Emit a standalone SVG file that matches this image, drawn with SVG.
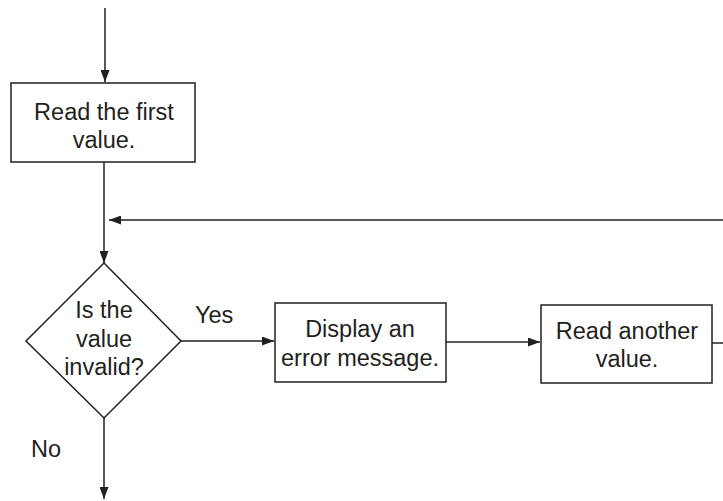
<svg xmlns="http://www.w3.org/2000/svg" width="723" height="501" viewBox="0 0 723 501">
<defs>
<marker id="arr" markerUnits="userSpaceOnUse" markerWidth="12" markerHeight="9" refX="12" refY="4.5" orient="auto">
<path d="M0,0 L12,4.5 L0,9 Z" fill="#231f20"/>
</marker>
</defs>
<style>
.n{fill:#fff;stroke:#231f20;stroke-width:1.5}
.c{fill:none;stroke:#231f20;stroke-width:1.5}
.t{font-family:"Liberation Sans",Arial,sans-serif;font-size:23.5px;fill:#231f20;text-anchor:middle}
.l{font-family:"Liberation Sans",Arial,sans-serif;font-size:23.5px;fill:#231f20}
</style>
<rect width="723" height="501" fill="#fff"/>
<g id="connectors">
<line class="c" x1="105" y1="8" x2="105" y2="82" marker-end="url(#arr)"/>
<line class="c" x1="104" y1="162" x2="104" y2="263" marker-end="url(#arr)"/>
<line class="c" x1="723" y1="220" x2="109" y2="220" marker-end="url(#arr)"/>
<line class="c" x1="181" y1="341" x2="274" y2="341" marker-end="url(#arr)"/>
<line class="c" x1="446" y1="342" x2="540" y2="342" marker-end="url(#arr)"/>
<line class="c" x1="712" y1="343" x2="723" y2="343"/>
<line class="c" x1="104" y1="418" x2="104" y2="499" marker-end="url(#arr)"/>
<text class="l" x="195" y="323">Yes</text>
<text class="l" x="31" y="457">No</text>
</g>
<g id="read-first">
<rect class="n" x="11" y="83" width="184" height="79"/>
<text class="t" x="104" y="120">Read the first</text>
<text class="t" x="104" y="148">value.</text>
</g>
<g id="decision">
<polygon class="n" points="104,263 181,341 104,418 26,341"/>
<text class="t" x="104" y="318">Is the</text>
<text class="t" x="104" y="347">value</text>
<text class="t" x="104" y="375">invalid?</text>
</g>
<g id="display-error">
<rect class="n" x="275" y="303" width="171" height="79"/>
<text class="t" x="360" y="337">Display an</text>
<text class="t" x="360" y="366">error message.</text>
</g>
<g id="read-another">
<rect class="n" x="541" y="305" width="171" height="78"/>
<text class="t" x="627" y="339">Read another</text>
<text class="t" x="627" y="367">value.</text>
</g>
</svg>
